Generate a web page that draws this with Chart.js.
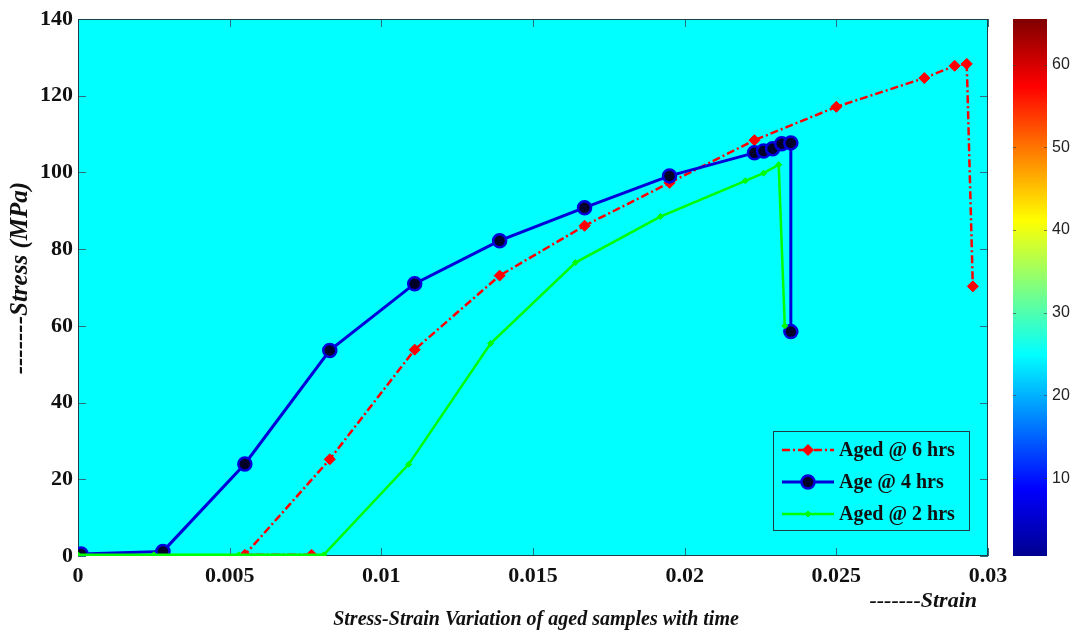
<!DOCTYPE html>
<html><head><meta charset="utf-8">
<script src="https://cdn.jsdelivr.net/npm/chart.js@4.4.0/dist/chart.umd.min.js"></script>
<style>html,body{margin:0;padding:0;background:#fff}canvas{display:block}</style>
</head><body>
<canvas id="c" width="1072" height="632"></canvas>
<script>
// ---- data ----
const seriesLabels = ['Aged @ 6 hrs', 'Age @ 4 hrs', 'Aged @ 2 hrs'];

const strain6 = [0.0077, 0.0055, 0.0083, 0.0111, 0.0139, 0.0167, 0.0195, 0.0223, 0.0250, 0.0279, 0.0289, 0.0293, 0.0295];
const stress6 = [0.3, 0.3, 25.2, 53.8, 73.1, 86.1, 97.3, 108.4, 117.1, 124.6, 127.8, 128.3, 70.3];

const strain4 = [0.0001, 0.0028, 0.0055, 0.0083, 0.0111, 0.0139, 0.0167, 0.0195, 0.0223, 0.0226, 0.0229, 0.0232, 0.0235, 0.0235];
const stress4 = [0.5, 1.2, 24.0, 53.6, 71.0, 82.2, 90.8, 99.1, 105.1, 105.6, 106.2, 107.5, 107.7, 58.5];

const strain2 = [0, 0.0025, 0.0053, 0.0081, 0.0109, 0.0136, 0.0164, 0.0192, 0.0220, 0.0226, 0.0231, 0.0233];
const stress2 = [0.3, 0.3, 0.3, 0.3, 23.9, 55.4, 76.5, 88.5, 97.8, 99.8, 102.0, 60.0];

const xTickValues = [0, 0.005, 0.01, 0.015, 0.02, 0.025, 0.03];
const xTickLabels = ['0', '0.005', '0.01', '0.015', '0.02', '0.025', '0.03'];
const yTickValues = [0, 20, 40, 60, 80, 100, 120, 140];
const yTickLabels = ['0', '20', '40', '60', '80', '100', '120', '140'];
const cbTickValues = [10, 20, 30, 40, 50, 60];
const cbRange = [0.6, 65.5];

const yTitle = '\u00a0\u00a0\u00a0-------Stress (MPa)';
const xTitle = '-------Strain\u00a0\u00a0';
const caption = 'Stress-Strain Variation of aged samples with time';

// ---- helpers ----
const toPts = (xs, ys) => xs.map((x, i) => ({x: x, y: ys[i]}));
const SERIF = "'Liberation Serif', 'Times New Roman', serif";

const bgPlugin = {
  id: 'bg',
  beforeDraw(chart) {
    const a = chart.chartArea, ctx = chart.ctx;
    ctx.save();
    ctx.fillStyle = '#00FFFF';
    ctx.fillRect(a.left, a.top, a.right - a.left, a.bottom - a.top);
    ctx.restore();
  },
  beforeDatasetsDraw(chart) {
    const a = chart.chartArea, ctx = chart.ctx;
    const xs = chart.scales.x, ys = chart.scales.y;
    ctx.save();
    ctx.strokeStyle = '#2c6f7c';
    ctx.lineWidth = 1;
    ctx.beginPath();
    xs.ticks.forEach(t => {
      const px = Math.round(xs.getPixelForValue(t.value)) + 0.5;
      ctx.moveTo(px, a.bottom); ctx.lineTo(px, a.bottom - 8);
      ctx.moveTo(px, a.top); ctx.lineTo(px, a.top + 8);
    });
    ys.ticks.forEach(t => {
      const py = Math.round(ys.getPixelForValue(t.value)) + 0.5;
      ctx.moveTo(a.left, py); ctx.lineTo(a.left + 8, py);
      ctx.moveTo(a.right, py); ctx.lineTo(a.right - 8, py);
    });
    ctx.stroke();
    ctx.strokeStyle = '#1f3f48';
    ctx.strokeRect(a.left + 0.5, a.top + 0.5, a.right - a.left - 1, a.bottom - a.top - 1);
    ctx.restore();
  }
};

const colorbarPlugin = {
  id: 'colorbar',
  afterDraw(chart) {
    const s = chart.scales.cb, ctx = chart.ctx;
    const x0 = s.left + 25, w = 34;
    const yTop = s.getPixelForValue(cbRange[1]);
    const yBot = s.getPixelForValue(cbRange[0]);
    const g = ctx.createLinearGradient(0, yBot, 0, yTop);
    g.addColorStop(0, '#000090');
    g.addColorStop(0.125, '#0000FF');
    g.addColorStop(0.375, '#00FFFF');
    g.addColorStop(0.625, '#FFFF00');
    g.addColorStop(0.875, '#FF0000');
    g.addColorStop(1, '#800000');
    ctx.save();
    ctx.fillStyle = g;
    ctx.fillRect(x0, yTop, w, yBot - yTop);
    ctx.strokeStyle = 'rgba(60,60,60,0.6)';
    ctx.lineWidth = 1;
    ctx.beginPath();
    cbTickValues.forEach(v => {
      const py = Math.round(s.getPixelForValue(v)) + 0.5;
      ctx.moveTo(x0, py); ctx.lineTo(x0 + 3, py);
      ctx.moveTo(x0 + w, py); ctx.lineTo(x0 + w - 3, py);
    });
    ctx.stroke();
    ctx.restore();
  }
};

const legendPlugin = {
  id: 'innerLegend',
  afterDraw(chart) {
    const ctx = chart.ctx, a = chart.chartArea;
    const bx = a.right - 215, by = a.bottom - 125, bw = 196, bh = 99;
    ctx.save();
    ctx.fillStyle = '#00FFFF';
    ctx.fillRect(bx, by, bw, bh);
    ctx.strokeStyle = '#1f3f48';
    ctx.lineWidth = 1;
    ctx.strokeRect(bx + 0.5, by + 0.5, bw, bh);
    chart.data.datasets.forEach((ds, i) => {
      const cy = by + 19 + i * 32;
      ctx.save();
      ctx.strokeStyle = ds.borderColor;
      ctx.lineWidth = ds.borderWidth;
      ctx.setLineDash(ds.borderDash || []);
      ctx.beginPath();
      ctx.moveTo(bx + 9, cy); ctx.lineTo(bx + 61, cy);
      ctx.stroke();
      ctx.restore();
      ctx.save();
      ctx.fillStyle = ds.pointBackgroundColor;
      ctx.strokeStyle = ds.pointBorderColor;
      ctx.lineWidth = ds.pointBorderWidth;
      Chart.helpers.drawPoint(ctx, {pointStyle: ds.pointStyle, radius: ds.pointRadius, borderWidth: ds.pointBorderWidth, rotation: 0}, bx + 35, cy);
      ctx.restore();
      ctx.fillStyle = '#111';
      ctx.font = 'bold 20px ' + SERIF;
      ctx.textAlign = 'left';
      ctx.textBaseline = 'middle';
      ctx.fillText(ds.label, bx + 66, cy + 1);
    });
    ctx.restore();
  }
};

new Chart(document.getElementById('c'), {
  type: 'scatter',
  data: {
    datasets: [
      {
        label: seriesLabels[0],
        data: toPts(strain6, stress6),
        showLine: true,
        borderColor: '#FF0000',
        borderWidth: 2.5,
        borderDash: [8, 3, 2, 3],
        pointStyle: 'rectRot',
        pointRadius: 5.5,
        pointBackgroundColor: '#FF0000',
        pointBorderColor: '#FF0000',
        pointBorderWidth: 1,
        order: 2
      },
      {
        label: seriesLabels[1],
        data: toPts(strain4, stress4),
        showLine: true,
        borderColor: '#0000D8',
        borderWidth: 3,
        pointStyle: 'circle',
        pointRadius: 6.5,
        pointBackgroundColor: '#000028',
        pointBorderColor: '#0000D8',
        pointBorderWidth: 2.5,
        order: 1
      },
      {
        label: seriesLabels[2],
        data: toPts(strain2, stress2),
        showLine: true,
        borderColor: '#00FF00',
        borderWidth: 2.5,
        pointStyle: 'rectRot',
        pointRadius: 3,
        pointBackgroundColor: '#00FF00',
        pointBorderColor: '#00FF00',
        pointBorderWidth: 1,
        order: 0
      }
    ]
  },
  options: {
    responsive: false,
    animation: false,
    layout: {padding: {top: 19, left: 0, right: 0, bottom: 0}},
    plugins: {
      legend: {display: false},
      tooltip: {enabled: false},
      title: {
        display: true,
        position: 'bottom',
        text: caption,
        color: '#111',
        font: {family: SERIF, size: 20, weight: 'bold', style: 'italic', lineHeight: 1.0},
        padding: {top: 0, bottom: 2}
      }
    },
    scales: {
      x: {
        type: 'linear',
        min: 0, max: 0.03,
        afterBuildTicks: s => { s.ticks = xTickValues.map(v => ({value: v})); },
        afterFit: s => { s.height = 54; },
        ticks: {
          callback: (v) => xTickLabels[xTickValues.indexOf(v)] ?? '',
          color: '#111',
          padding: 7,
          maxRotation: 0,
          font: {family: SERIF, size: 22, weight: 'bold', lineHeight: 1.2}
        },
        grid: {display: false, drawTicks: false},
        border: {display: false},
        title: {
          display: true,
          text: xTitle,
          align: 'end',
          color: '#111',
          font: {family: SERIF, size: 22, weight: 'bold', style: 'italic', lineHeight: 1.0},
          padding: {top: 0, bottom: -2}
        }
      },
      y: {
        type: 'linear',
        min: 0, max: 140,
        afterBuildTicks: s => { s.ticks = yTickValues.map(v => ({value: v})); },
        afterFit: s => { s.width = 78; },
        ticks: {
          callback: (v) => yTickLabels[yTickValues.indexOf(v)] ?? '',
          color: '#111',
          padding: 5,
          font: {family: SERIF, size: 22, weight: 'bold'}
        },
        grid: {display: false, drawTicks: false},
        border: {display: false},
        title: {
          display: true,
          text: yTitle,
          color: '#111',
          font: {family: SERIF, size: 25, weight: 'bold', style: 'italic', lineHeight: 1.2},
          padding: {top: 6, bottom: 0}
        }
      },
      cb: {
        type: 'linear',
        position: 'right',
        min: cbRange[0], max: cbRange[1],
        afterBuildTicks: s => { s.ticks = cbTickValues.map(v => ({value: v})); },
        afterFit: s => { s.width = 84; s.paddingTop = 0; s.paddingBottom = 0; },
        ticks: {
          color: '#222',
          padding: 64,
          font: {family: "'Liberation Sans', Arial, sans-serif", size: 16}
        },
        grid: {display: false, drawTicks: false},
        border: {display: false}
      }
    }
  },
  plugins: [bgPlugin, colorbarPlugin, legendPlugin]
});
</script>
</body></html>
